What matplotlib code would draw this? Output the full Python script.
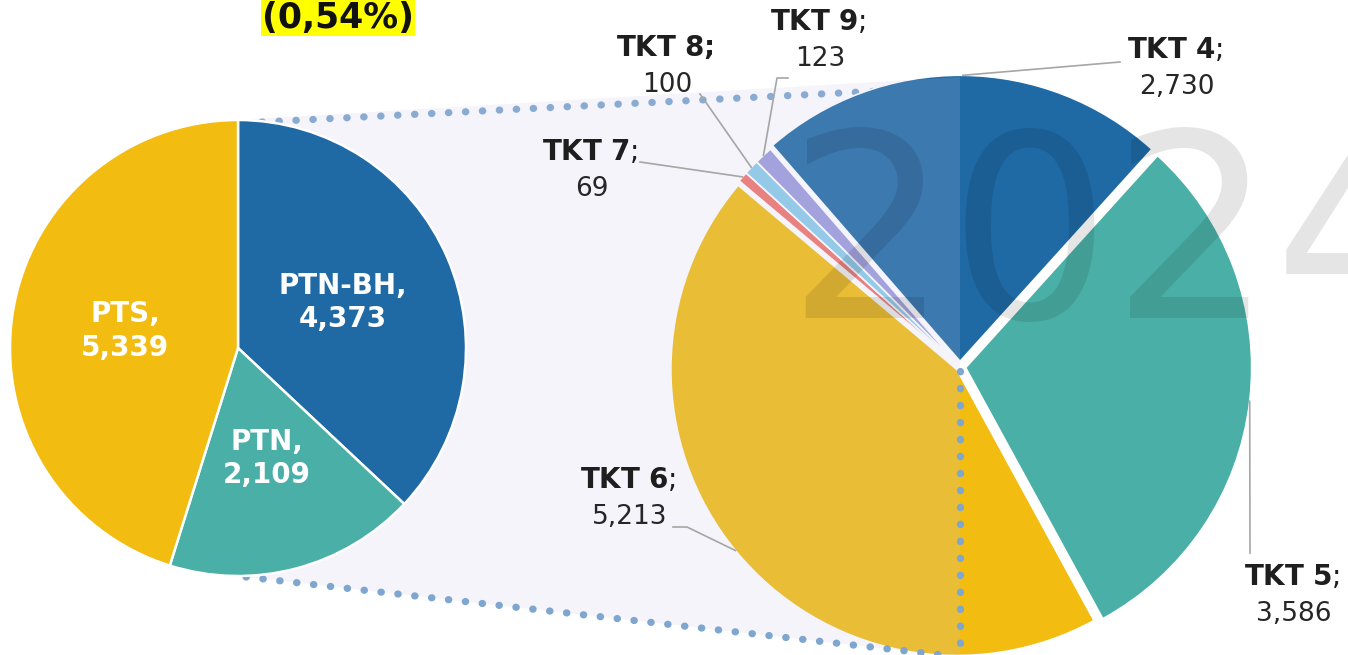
import numpy as np
import matplotlib.pyplot as plt
from matplotlib.patches import Polygon

plt.rcParams['font.family'] = ['DejaVu Sans']
plt.rcParams['mathtext.fontset'] = 'dejavusans'

# dữ liệu
main_labels = ['PTN-BH', 'PTN', 'PTS']
main_values = [4373, 2109, 5339]
main_colors = ['#1F69A4', '#4AAFA6', '#F2BC10']

sub_labels = ['TKT 4', 'TKT 5', 'TKT 6', 'TKT 7', 'TKT 8', 'TKT 9']
sub_values = [2730, 3586, 5213, 69, 100, 123]
sub_colors = ['#1F69A4', '#4AAFA6', '#F2BC10', '#F0746B', '#8ACBEA', '#9D9BDC']
sub_explode = [0.02, 0.02, 0.014, 0.01, 0.01, 0.01]

share_text = '(0,54%)'
watermark = '2024'

# bố cục (pixel, gốc ở góc trên trái)
W, H = 1348, 655
c1, r1 = (238, H - 348), 228
c2, r2 = (960, H - 367), 286
label_pos = [(1175, 50), (1292, 577), (628, 480), (590, 152), (665, 48), (818, 22)]
leader_pts = [[(1120, 62)], [(1250, 553)], [(673, 527), (687, 527)],
              [(640, 162)], [(700, 94)], [(788, 78), (777, 78)]]
bold_semicolon = [False, False, False, False, True, False]

fig = plt.figure(figsize=(W / 100, H / 100), dpi=100)
ax = fig.add_axes([0, 0, 1, 1])

# bánh trái
w1, _ = ax.pie(main_values, colors=main_colors, startangle=90, counterclock=False,
               center=c1, radius=r1,
               wedgeprops=dict(edgecolor='white', linewidth=1.8, zorder=3))
for w, lab, v in zip(w1, main_labels, main_values):
    a = np.deg2rad((w.theta1 + w.theta2) / 2)
    x = c1[0] + 0.5 * r1 * np.cos(a)
    y = c1[1] + 0.5 * r1 * np.sin(a)
    ax.text(x, y, f'{lab},\n{v:,}', color='white', fontsize=20, fontweight='bold',
            ha='center', va='center', linespacing=1.25, zorder=5)

# bánh phải (explode của pie tính theo đơn vị dữ liệu)
w2, _ = ax.pie(sub_values, colors=sub_colors, startangle=131, counterclock=False,
               center=c2, radius=r2, explode=[e * r2 for e in sub_explode],
               wedgeprops=dict(edgecolor='white', linewidth=1.2, zorder=1))

# vùng nối giữa hai bánh
poly = Polygon([(c1[0], c1[1] + r1), (c2[0], c2[1] + r2 + 4),
                (c2[0], c2[1] - r2 - 4), (c1[0], c1[1] - r1)],
               closed=True, facecolor=(194 / 255, 194 / 255, 228 / 255),
               alpha=0.18, edgecolor='none', zorder=2)
ax.add_patch(poly)

dot = dict(color='#7EA6CE', lw=5.2, linestyle=(0, (0.05, 2.3)),
           dash_capstyle='round')
ax.plot([c1[0] + 24, c2[0]], [c1[1] + r1 - 2, c2[1] + r2 - 6], zorder=0.9, **dot)
ax.plot([c1[0] + 8, c2[0]], [c1[1] - r1 - 1, c2[1] - r2 - 4], zorder=2.6, **dot)
ax.plot([c2[0], c2[0]], [c2[1] - 4, c2[1] - r2 - 4], zorder=2.6, **dot)

# nhãn bánh phải
for w, lab, v, (lx, ly), pts, bsemi in zip(w2, sub_labels, sub_values, label_pos,
                                          leader_pts, bold_semicolon):
    name = lab.replace(' ', r'\ ')
    txt = rf'$\mathbf{{{name};}}$' if bsemi else rf'$\mathbf{{{name}}}$;'
    ax.text(lx, H - ly, txt, fontsize=20, color='#1E1E1E', ha='center', va='center', zorder=5)
    ax.text(lx + 2, H - ly - 37, f'{v:,}', fontsize=19, color='#262626',
            ha='center', va='center', zorder=5)
    a = np.deg2rad((w.theta1 + w.theta2) / 2)
    ex = w.center[0] + w.r * np.cos(a)
    ey = w.center[1] + w.r * np.sin(a)
    xs = [p[0] for p in pts] + [ex]
    ys = [H - p[1] for p in pts] + [ey]
    ax.plot(xs, ys, color='#A6A6A6', lw=1.2, zorder=4)

# chữ trên cùng
ax.text(338, H - 28, share_text, fontsize=25, fontweight='bold', color='#111111',
        ha='center', va='baseline', zorder=6,
        bbox=dict(facecolor='#FFFF00', edgecolor='none', pad=1.0))

# hình mờ
ax.text(786, H - 318, watermark, fontsize=184, color='black', alpha=0.1,
        ha='left', va='baseline', zorder=6)

ax.set_xlim(0, W)
ax.set_ylim(0, H)
ax.set_aspect('equal')
ax.axis('off')

fig.savefig('out.png', dpi=100, facecolor='white')
